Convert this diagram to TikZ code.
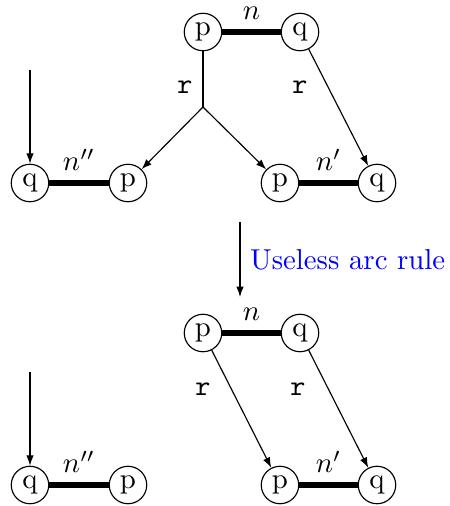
\documentclass[tikz,border=0pt]{standalone}
\usepackage{xcolor}
\usetikzlibrary{arrows.meta}

\begin{document}
\begin{tikzpicture}[x=0.347pt, y=-0.347pt, >={Latex[length=3.6pt,width=2.6pt]},
  vtx/.style={circle, draw, inner sep=0pt, minimum size=13pt},
  link/.style={line width=1.8pt},
  rlab/.style={font=\ttfamily}]
  \useasboundingbox (0,0) rectangle (450,506);
  % before the rule
  \node[vtx] (p1) at (203,32) {p};
  \node[vtx] (q1) at (300,32) {q};
  \node[vtx] (q2) at (30,183) {q};
  \node[vtx] (p2) at (128,183) {p};
  \node[vtx] (p3) at (280,183) {p};
  \node[vtx] (q3) at (377,183) {q};
  \coordinate (fork) at (203,107);
  \coordinate (in1) at (30,70);
  \draw[link] (p1) -- node[above] (n1) {$n$} (q1);
  \draw[link] (q2) -- node[above] (n2) {$n''$} (p2);
  \draw[link] (p3) -- node[above] (n3) {$n'$} (q3);
  \draw (p1) -- (fork);
  \draw[->] (fork) -- (p2);
  \draw[->] (fork) -- (p3);
  \draw[->] (q1) -- (q3);
  \draw[->] (in1) -- (q2);
  \node[rlab] (r1) at (185,87) {r};
  \node[rlab] (r2) at (300,87) {r};
  % the rule
  \coordinate (top) at (240,222);
  \coordinate (bot) at (240,297);
  \draw[->] (top) -- node[right, text=blue] (rule) {Useless arc rule} (bot);
  % after the rule
  \node[vtx] (p4) at (203,333) {p};
  \node[vtx] (q4) at (300,333) {q};
  \node[vtx] (q5) at (30,485) {q};
  \node[vtx] (p5) at (128,485) {p};
  \node[vtx] (p6) at (280,485) {p};
  \node[vtx] (q6) at (377,485) {q};
  \coordinate (in2) at (30,372);
  \draw[link] (p4) -- node[above] (n4) {$n$} (q4);
  \draw[link] (q5) -- node[above] (n5) {$n''$} (p5);
  \draw[link] (p6) -- node[above] (n6) {$n'$} (q6);
  \draw[->] (p4) -- (p6);
  \draw[->] (q4) -- (q6);
  \draw[->] (in2) -- (q5);
  \node[rlab] (r3) at (203,389) {r};
  \node[rlab] (r4) at (298,389) {r};
\end{tikzpicture}
\end{document}
